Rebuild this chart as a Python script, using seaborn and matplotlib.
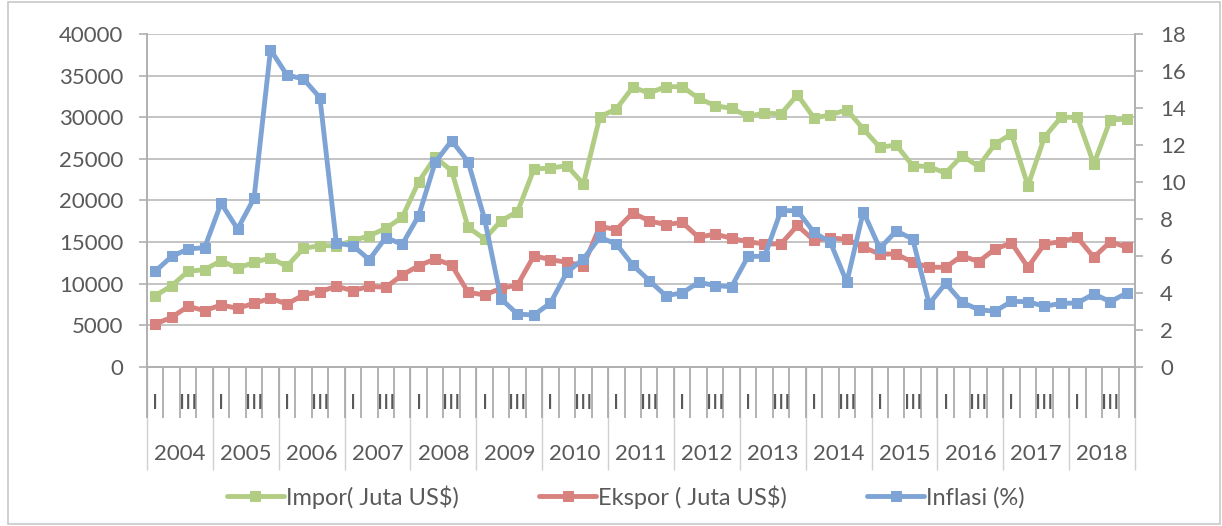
import numpy as np
import matplotlib
matplotlib.use("Agg")
import matplotlib.pyplot as plt
import matplotlib.transforms as mtransforms
from matplotlib.patches import Rectangle
import seaborn as sns

# quarterly data 2004 - 2018
years = [str(y) for y in range(2004, 2019)]
quarter_labels = ["I", "", "III", ""]

impor = [8560, 9770, 11500, 11690,
         12770, 11860, 12580, 13090,
         12100, 14260, 14570, 14570,
         15170, 15770, 16650, 17980,
         22260, 25190, 23580, 16780,
         15370, 17570, 18650, 23780,
         23900, 24180, 21980, 30070,
         30990, 33600, 32910, 33670,
         33670, 32270, 31390, 31070,
         30110, 30510, 30390, 32700,
         29930, 30270, 30910, 28590,
         26390, 26670, 24180, 24060,
         23300, 25390, 24100, 26790,
         27990, 21780, 27590, 29990,
         29990, 24380, 29670, 29790]

ekspor = [5170, 5970, 7290, 6770,
          7450, 7050, 7650, 8250,
          7570, 8650, 9050, 9690,
          9170, 9690, 9570, 11050,
          12170, 12970, 12250, 8970,
          8650, 9450, 9850, 13370,
          12890, 12580, 12170, 16900,
          16500, 18500, 17570, 17090,
          17380, 15570, 15980, 15450,
          15050, 14780, 14780, 17000,
          15200, 15500, 15350, 14380,
          13570, 13570, 12580, 11980,
          11980, 13370, 12650, 14170,
          14900, 11980, 14780, 15050,
          15570, 13170, 15050, 14380]

inflasi = [5.17, 5.98, 6.38, 6.45,
           8.85, 7.46, 9.12, 17.15,
           15.78, 15.57, 14.56, 6.70,
           6.56, 5.80, 7.00, 6.63,
           8.18, 11.06, 12.23, 11.10,
           8.00, 3.68, 2.86, 2.81,
           3.46, 5.12, 5.84, 7.01,
           6.65, 5.51, 4.67, 3.86,
           4.00, 4.58, 4.40, 4.34,
           5.98, 5.98, 8.45, 8.45,
           7.28, 6.74, 4.58, 8.40,
           6.41, 7.35, 6.92, 3.41,
           4.52, 3.50, 3.10, 3.01,
           3.55, 3.53, 3.28, 3.44,
           3.46, 3.95, 3.53, 4.00]

sns.set_theme(style="white")
plt.rcParams['font.family'] = ['Lato', 'DejaVu Sans']

txt = '#595959'
grid_c = '#BFBFBF'
green, red, blue = '#B1CD84', '#D8827F', '#7EA3D5'

idx = np.arange(len(impor))

fig = plt.figure(figsize=(12.22, 5.26), dpi=100)
ax = fig.add_axes([147 / 1222, 1 - 367 / 526, 988 / 1222, 333 / 526])

style = dict(marker='s', markersize=7.5, linewidth=3.5)
sns.lineplot(x=idx, y=impor, ax=ax, color=green, markeredgecolor=green,
             label='Impor( Juta US$)', **style)
sns.lineplot(x=idx, y=ekspor, ax=ax, color=red, markeredgecolor=red,
             label='Ekspor ( Juta US$)', **style)
ax2 = ax.twinx()
sns.lineplot(x=idx, y=inflasi, ax=ax2, color=blue, markeredgecolor=blue,
             label='Inflasi (%)', **style)

h1, l1 = ax.get_legend_handles_labels()
h2, l2 = ax2.get_legend_handles_labels()
ax.get_legend().remove()
ax2.get_legend().remove()

ax.set_xlim(-0.5, len(idx) - 0.5)
ax.set_ylim(0, 40000)
ax.set_yticks(range(0, 40001, 5000))
ax2.set_ylim(0, 18)
ax2.set_yticks(range(0, 19, 2))

ax.yaxis.grid(True, color=grid_c, linewidth=1.3)
ax.set_axisbelow(True)

for a in (ax, ax2):
    a.spines['top'].set_visible(False)
    for s in ('left', 'right', 'bottom'):
        a.spines[s].set_color('#B0B0B0')
        a.spines[s].set_linewidth(1.2)

ax.tick_params(axis='y', which='both', left=True, length=6, width=1.2,
               color='#B0B0B0', pad=11, labelsize=16, labelcolor=txt)
ax2.tick_params(axis='y', which='both', right=True, length=6, width=1.2,
                color='#B0B0B0', pad=12, labelsize=16, labelcolor=txt)

# two-level category axis: quarter ticks and year separators
bounds = np.arange(-0.5, len(idx), 1.0)
ax.xaxis.remove_overlapping_locs = False
ax.set_xticks(bounds[::4])
ax.set_xticks(bounds, minor=True)
ax.set_xticklabels([])
ax.tick_params(axis='x', which='major', bottom=True, length=74, width=1,
               color='#D0D0D0', direction='out')
ax.tick_params(axis='x', which='minor', bottom=True, length=37, width=1.2,
               color='#A6A6A6', direction='out')

trans = mtransforms.blended_transform_factory(ax.transData, ax.transAxes)
for i in idx:
    ax.text(i, -0.108, quarter_labels[i % 4], transform=trans, ha='center',
            va='center', fontsize=16, color=txt)
for k, yr in enumerate(years):
    ax.text(4 * k + 1.5, -0.262, yr, transform=trans, ha='center',
            va='center', fontsize=16, color=txt)

ax.set_xlabel('')
ax.set_ylabel('')
ax2.set_ylabel('')

fig.legend(h1 + h2, l1 + l2, loc='center', bbox_to_anchor=(626 / 1222, 1 - 497 / 526),
           ncol=3, frameon=False, fontsize=17, labelcolor=txt,
           handlelength=2.4, handletextpad=0.1, columnspacing=3.4)

fig.patches.append(Rectangle((8 / 1222, 2 / 526), 1212 / 1222, 522 / 526,
                             transform=fig.transFigure, fill=False,
                             edgecolor='#C8C8C8', linewidth=1.2))

fig.savefig('out.png', dpi=100)
